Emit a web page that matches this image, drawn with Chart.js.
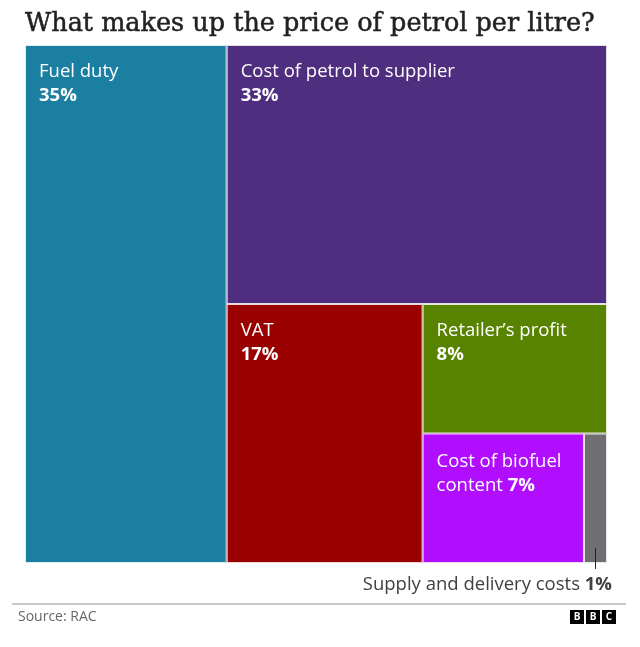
<!DOCTYPE html>
<html>
<head>
<meta charset="utf-8">
<script src="https://cdn.jsdelivr.net/npm/chart.js@4"></script>
<style>
  html, body { margin: 0; padding: 0; background: #fff; }
  #wrap { width: 640px; height: 647px; position: relative; }
</style>
</head>
<body>
<div id="wrap"><canvas id="chartPetrol" width="640" height="647"></canvas></div>
<script>
// Dados do gráfico
const categorias = [
  "Fuel duty",
  "Cost of petrol to supplier",
  "VAT",
  "Retailer’s profit",
  "Cost of biofuel content",
  "Supply and delivery costs",
];
const percentuais = [35, 33, 17, 8, 7, 1];
const cores = ["#1a7fa1", "#4f2d7f", "#990000", "#588300", "#b10dfe", "#6e6e73"];

const titulo = "What makes up the price of petrol per litre?";
const fonte = "Source: RAC";

// Layout slice-and-dice, alternando vertical / horizontal, em unidades de dados (0-100)
function calcularBlocos() {
  let x0 = 0, y0 = 0, x1 = 100, y1 = 100;
  let restante = percentuais.reduce((a, b) => a + b, 0);
  const blocos = [];
  for (let i = 0; i < percentuais.length; i++) {
    const v = percentuais[i];
    const frac = v / restante;
    if (i == percentuais.length - 1) {
      blocos.push({ x0, y0, x1, y1 });
    } else if (i % 2 == 0) {
      const xm = x0 + (x1 - x0) * frac;
      blocos.push({ x0, y0, x1: xm, y1 });
      x0 = xm;
    } else {
      const ym = y0 + (y1 - y0) * frac;
      blocos.push({ x0, y0, x1, y1: ym });
      y0 = ym;
    }
    restante -= v;
  }
  return blocos;
}

const blocos = calcularBlocos();
const FONTE_SANS = "'Open Sans', sans-serif";
const TAM = "18.5px ";

const pluginTreemap = {
  id: "treemap",
  beforeDatasetsDraw(chart) {
    const ctx = chart.ctx;
    const sx = chart.scales.x;
    const sy = chart.scales.y;
    ctx.save();
    blocos.forEach((b, i) => {
      const px0 = sx.getPixelForValue(b.x0);
      const px1 = sx.getPixelForValue(b.x1);
      const py0 = sy.getPixelForValue(b.y0);
      const py1 = sy.getPixelForValue(b.y1);
      ctx.fillStyle = cores[i];
      ctx.fillRect(px0, py0, px1 - px0, py1 - py0);
      ctx.strokeStyle = "rgba(255,255,255,0.85)";
      ctx.lineWidth = 1;
      ctx.strokeRect(px0 + 0.5, py0 + 0.5, px1 - px0 - 1, py1 - py0 - 1);
    });

    // rótulos dentro dos blocos
    ctx.fillStyle = "#ffffff";
    ctx.textBaseline = "middle";
    ctx.textAlign = "left";
    blocos.forEach((b, i) => {
      if (i == blocos.length - 1) return;
      const px = sx.getPixelForValue(b.x0) + 14;
      const py = sy.getPixelForValue(b.y0);
      if (i == 4) {
        ctx.font = "500 " + TAM + FONTE_SANS;
        ctx.fillText("Cost of biofuel", px, py + 28);
        const t = "content ";
        ctx.fillText(t, px, py + 52);
        const w = ctx.measureText(t).width;
        ctx.font = "bold " + TAM + FONTE_SANS;
        ctx.fillText(percentuais[i] + "%", px + w, py + 52);
      } else {
        ctx.font = "500 " + TAM + FONTE_SANS;
        ctx.fillText(categorias[i], px, py + 27);
        ctx.font = "bold " + TAM + FONTE_SANS;
        ctx.fillText(percentuais[i] + "%", px, py + 51);
      }
    });

    // rótulo externo do último bloco
    const ult = blocos[blocos.length - 1];
    const cx = (sx.getPixelForValue(ult.x0) + sx.getPixelForValue(ult.x1)) / 2;
    const by = sy.getPixelForValue(ult.y1);
    ctx.strokeStyle = "#222";
    ctx.lineWidth = 1;
    ctx.beginPath();
    ctx.moveTo(Math.round(cx) + 0.5, by - 15);
    ctx.lineTo(Math.round(cx) + 0.5, by + 6);
    ctx.stroke();

    ctx.fillStyle = "#404040";
    ctx.textAlign = "right";
    ctx.font = "bold " + TAM + FONTE_SANS;
    const pct = percentuais[percentuais.length - 1] + "%";
    const wp = ctx.measureText(pct).width;
    ctx.fillText(pct, 612, by + 22);
    ctx.font = TAM + FONTE_SANS;
    ctx.fillText(categorias[categorias.length - 1] + " ", 612 - wp, by + 22);
    ctx.restore();
  },
  afterDraw(chart) {
    const ctx = chart.ctx;
    ctx.save();
    // título (peso médio: texto normal com contorno fino)
    ctx.fillStyle = "#222";
    ctx.strokeStyle = "#222";
    ctx.lineWidth = 0.5;
    ctx.textAlign = "left";
    ctx.textBaseline = "alphabetic";
    ctx.font = "25.5px 'DejaVu Serif', serif";
    ctx.fillText(titulo, 25, 31);
    ctx.strokeText(titulo, 25, 31);

    // linha do rodapé
    ctx.fillStyle = "#c8c8c8";
    ctx.fillRect(12, 603, 614, 2);

    ctx.fillStyle = "#666";
    ctx.font = "14px " + FONTE_SANS;
    ctx.textBaseline = "middle";
    ctx.fillText(fonte, 18, 617);

    // logo BBC
    const letras = ["B", "B", "C"];
    ctx.textAlign = "center";
    ctx.font = "bold 10px " + FONTE_SANS;
    letras.forEach((l, i) => {
      const x = 570 + i * 16;
      ctx.fillStyle = "#000";
      ctx.fillRect(x, 610, 14, 14);
      ctx.fillStyle = "#fff";
      ctx.fillText(l, x + 7, 617.5);
    });
    ctx.restore();
  },
};

const config = {
  type: "scatter",
  data: { datasets: [{ data: [], pointRadius: 0 }] },
  options: {
    responsive: false,
    animation: false,
    layout: { padding: { left: 25, right: 33, top: 45, bottom: 84 } },
    plugins: { legend: { display: false }, tooltip: { enabled: false } },
    scales: {
      x: { type: "linear", min: 0, max: 100, display: false },
      y: { type: "linear", min: 0, max: 100, reverse: true, display: false },
    },
  },
  plugins: [pluginTreemap],
};

const graficoPetrol = new Chart(document.getElementById("chartPetrol"), config);
</script>
</body>
</html>
